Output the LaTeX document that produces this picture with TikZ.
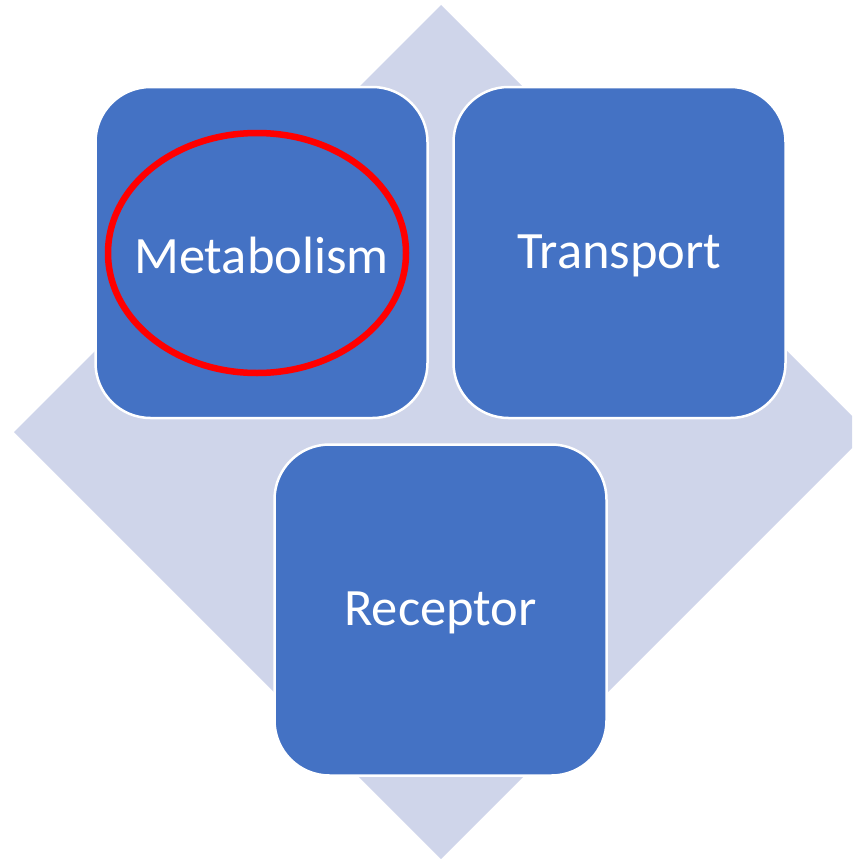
\documentclass[tikz,border=0pt]{standalone}
\usepackage{fontspec}
\setmainfont{Carlito}
\definecolor{lav}{HTML}{CFD5EA}
\definecolor{boxblue}{HTML}{4472C4}
\definecolor{redring}{HTML}{FF0000}
\tikzset{
  itembox/.style={draw=white, line width=2.5pt, fill=boxblue, rounded corners=55pt,
    minimum width=332pt, minimum height=331pt, inner sep=0pt, text=white,
    font=\fontsize{52.5}{60}\selectfont},
}
\begin{document}
\begin{tikzpicture}[x=1pt,y=-1pt]
\useasboundingbox (0,0) rectangle (852,859);
\clip (0,0) rectangle (852,859);
\fill[lav] (441,5) -- (868,432) -- (441,859) -- (14,432) -- cycle;
\node[itembox] (met) at (261.5,252.5) {};
\node[itembox] (tra) at (619.5,252.5) {};
\node[itembox] (rec) at (440.5,610) {};
\node[text=white, font=\fontsize{52.5}{60}\selectfont] (metl) at ([yshift=-3pt]met.center) {Metabolism};
\node[text=white, font=\fontsize{52.5}{60}\selectfont] (tral) at ([yshift=-3pt]tra.center) {Transport};
\node[text=white, font=\fontsize{52.5}{60}\selectfont] (recl) at ([yshift=-3pt]rec.center) {Receptor};
\draw[redring, line width=6.5pt] (257,253) ellipse [x radius=149, y radius=120];
\end{tikzpicture}
\end{document}
